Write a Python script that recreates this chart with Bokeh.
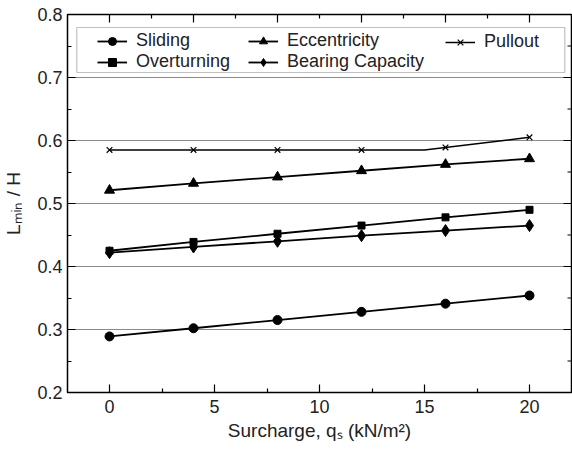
import math
from bokeh.plotting import figure
from bokeh.models import (FixedTicker, Legend, LegendItem, BoxAnnotation, Range1d,
                          PrintfTickFormatter)
from bokeh.embed import file_html
from bokeh.resources import INLINE

# ---------------- data ----------------
surcharge = [0, 4, 8, 12, 16, 20]
sliding = [0.289, 0.302, 0.315, 0.328, 0.341, 0.354]
overturning = [0.425, 0.439, 0.452, 0.465, 0.478, 0.490]
eccentricity = [0.521, 0.532, 0.542, 0.552, 0.562, 0.571]
bearing = [0.422, 0.431, 0.440, 0.449, 0.457, 0.465]
pullout = [0.585, 0.585, 0.585, 0.585, 0.589, 0.605]
pullout_line_x = [0, 4, 8, 12, 15, 20]
pullout_line_y = [0.585, 0.585, 0.585, 0.585, 0.585, 0.605]

x_major = [0, 5, 10, 15, 20]
x_minor = [2.5, 7.5, 12.5, 17.5]
top_major = [0, 4, 8, 12, 16, 20]
top_minor = [2, 6, 10, 14, 18]
y_major = [0.2, 0.3, 0.4, 0.5, 0.6, 0.7, 0.8]
y_minor = [0.25, 0.35, 0.45, 0.55, 0.65, 0.75]

X0, X1 = -2, 22
Y0, Y1 = 0.2, 0.8

FONT = "Liberation Sans"
TXT = "#222222"

p = figure(width=572, height=450, output_backend="svg", toolbar_location=None,
           x_range=Range1d(X0, X1), y_range=Range1d(Y0, Y1),
           min_border_left=67, min_border_right=1, min_border_top=14,
           min_border_bottom=58)
p.background_fill_color = "white"
p.border_fill_color = "white"
p.outline_line_color = "black"
p.outline_line_width = 1.5

p.xgrid.visible = False
p.ygrid.ticker = FixedTicker(ticks=y_major)
p.ygrid.grid_line_color = "#8a8a8a"
p.ygrid.grid_line_width = 1.2


def style_axis(ax, major, minor, fmt, standoff):
    ax.ticker = FixedTicker(ticks=major, minor_ticks=minor)
    ax.axis_line_color = None
    ax.major_tick_in = 8
    ax.major_tick_out = 0
    ax.minor_tick_in = 4
    ax.minor_tick_out = 0
    ax.major_tick_line_color = "black"
    ax.minor_tick_line_color = "black"
    ax.major_tick_line_width = 1.2
    ax.minor_tick_line_width = 1.2
    ax.major_label_text_font = FONT
    ax.major_label_text_font_size = "18px"
    ax.major_label_text_color = TXT
    ax.major_label_standoff = standoff
    ax.formatter = PrintfTickFormatter(format=fmt)
    ax.axis_label_text_font = FONT
    ax.axis_label_text_font_size = "19px"
    ax.axis_label_text_font_style = "normal"
    ax.axis_label_text_color = TXT


style_axis(p.xaxis[0], x_major, x_minor, "%d", 7)
style_axis(p.yaxis[0], y_major, y_minor, "%.1f", 5)
p.xaxis[0].axis_label = "Surcharge, q\u209b (kN/m\u00b2)"
p.xaxis[0].axis_label_standoff = 4
p.yaxis[0].axis_label = "L\u2098\u1d62\u2099 / H"
p.yaxis[0].axis_label_standoff = 10

# mirrored inward ticks on the top and right edges (clipped at the frame)
p.scatter(top_major, [Y1] * len(top_major), marker="dash", angle=math.pi / 2,
          size=16, line_color="black", line_width=1.2)
p.scatter(top_minor, [Y1] * len(top_minor), marker="dash", angle=math.pi / 2,
          size=8, line_color="black", line_width=1.2)
p.scatter([X1] * len(y_major), y_major, marker="dash", size=16,
          line_color="black", line_width=1.2)
p.scatter([X1] * len(y_minor), y_minor, marker="dash", size=8,
          line_color="black", line_width=1.2)

LW = 1.8
l1 = p.line(surcharge, sliding, line_color="black", line_width=LW)
s1 = p.scatter(surcharge, sliding, marker="circle", size=9, color="black")
l2 = p.line(surcharge, overturning, line_color="black", line_width=LW)
s2 = p.scatter(surcharge, overturning, marker="square", size=7, color="black")
l3 = p.line(surcharge, eccentricity, line_color="black", line_width=LW)
s3 = p.scatter(surcharge, eccentricity, marker="triangle", size=10, color="black")
l4 = p.line(surcharge, bearing, line_color="black", line_width=LW)
s4 = p.scatter(surcharge, bearing, marker="diamond", size=12, color="black")
l5 = p.line(pullout_line_x, pullout_line_y, line_color="black", line_width=1.5)
s5 = p.scatter(surcharge, pullout, marker="x", size=8, line_color="black", line_width=1.2)


# helpers converting reference pixel positions to data coordinates
def px_to_x(px):
    return X0 + (px - 66.7) * (X1 - X0) / 504


def py_to_y(py):
    return Y1 - (py - 14) * (Y1 - Y0) / 378


# legend frame
p.add_layout(BoxAnnotation(left=px_to_x(76), right=px_to_x(564),
                           top=py_to_y(27), bottom=py_to_y(72),
                           fill_alpha=0, line_color="#333333", line_width=1.2))


def make_legend(items, loc):
    leg = Legend(items=items, location=loc, orientation="vertical",
                 spacing=0, padding=0, margin=0,
                 border_line_color=None, background_fill_alpha=0,
                 glyph_width=30, glyph_height=20, label_height=20,
                 label_standoff=9, label_text_font=FONT,
                 label_text_font_size="18px", label_text_color=TXT)
    p.add_layout(leg)


make_legend([LegendItem(label="Sliding", renderers=[l1, s1]),
             LegendItem(label="Overturning", renderers=[l2, s2])], (30, 320))
make_legend([LegendItem(label="Eccentricity", renderers=[l3, s3]),
             LegendItem(label="Bearing Capacity", renderers=[l4, s4])], (181, 320))
make_legend([LegendItem(label="Pullout", renderers=[l5, s5])], (378, 340))

open("out.html", "w").write(file_html(p, INLINE))
